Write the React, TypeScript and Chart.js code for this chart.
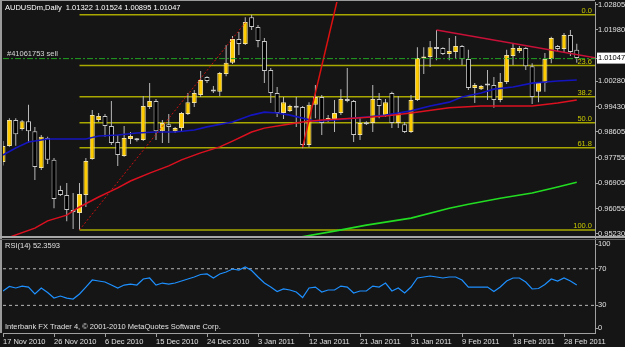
import React, { useEffect, useRef } from "react";
import { Chart, registerables } from "chart.js";

Chart.register(...registerables);

// ---------- data ----------
const symbolName = "AUDUSDm,Daily";
const tickBars = [0, 8, 16, 24, 32, 40, 48, 56, 64, 72, 80, 88];
const tickLabels = [
  "17 Nov 2010", "26 Nov 2010", "6 Dec 2010", "15 Dec 2010", "24 Dec 2010", "3 Jan 2011",
  "12 Jan 2011", "21 Jan 2011", "31 Jan 2011", "9 Feb 2011", "18 Feb 2011", "28 Feb 2011",
];

const opens = [
  0.9761, 0.9814, 0.9900, 0.9870, 0.9896, 0.9863, 0.9741, 0.9840, 0.9768, 0.9668,
  0.9652, 0.9602, 0.9592, 0.9652, 0.9771, 0.9900, 0.9913, 0.9880, 0.9827, 0.9781,
  0.9837, 0.9836, 0.9834, 0.9943, 0.9963, 0.9863, 0.9886, 0.9863, 0.9873, 0.9920,
  0.9956, 0.9983, 1.0042, 0.9996, 0.9993, 1.0052, 1.0089, 1.0168, 1.0151, 1.0240,
  1.0208, 1.0161, 1.0065, 0.9989, 0.9923, 0.9930, 0.9946, 0.9943, 0.9817, 0.9950,
  0.9976, 0.9900, 0.9903, 0.9923, 0.9969, 0.9963, 0.9850, 0.9890, 0.9890, 0.9969,
  0.9913, 0.9989, 0.9890, 0.9886, 0.9860, 0.9966, 1.0103, 1.0108, 1.0141, 1.0138,
  1.0118, 1.0125, 1.0145, 1.0102, 1.0006, 1.0002, 1.0016, 1.0016, 0.9966, 1.0026,
  1.0112, 1.0128, 1.0138, 1.0078, 0.9993, 1.0022, 1.0102, 1.0145, 1.0135, 1.0181,
  1.01322,
];
const highs = [
  0.9830, 0.9906, 0.9906, 0.9900, 0.9950, 0.9877, 0.9850, 0.9844, 0.9774, 0.9682,
  0.9691, 0.9658, 0.9691, 0.9774, 0.9933, 0.9923, 0.9920, 0.9963, 0.9850, 0.9880,
  0.9860, 0.9840, 0.9979, 1.0022, 0.9969, 0.9900, 0.9920, 0.9877, 0.9926, 0.9989,
  0.9999, 1.0062, 1.0045, 1.0012, 1.0059, 1.0148, 1.0178, 1.0191, 1.0240, 1.0248,
  1.0214, 1.0171, 1.0072, 1.0009, 0.9976, 0.9950, 0.9976, 0.9946, 0.9959, 1.0016,
  0.9983, 0.9916, 0.9966, 1.0002, 1.0072, 0.9966, 0.9910, 0.9896, 1.0016, 0.9989,
  0.9969, 0.9993, 0.9979, 0.9893, 0.9983, 1.0141, 1.0141, 1.0161, 1.0198, 1.0141,
  1.0171, 1.0178, 1.0148, 1.0132, 1.0022, 1.0016, 1.0065, 1.0042, 1.0055, 1.0132,
  1.0155, 1.0145, 1.0141, 1.0088, 1.0026, 1.0122, 1.0175, 1.0148, 1.0188, 1.0198,
  1.01524,
];
const lows = [
  0.9749, 0.9811, 0.9815, 0.9865, 0.9824, 0.9701, 0.9734, 0.9754, 0.9608, 0.9648,
  0.9565, 0.9539, 0.9536, 0.9612, 0.9768, 0.9893, 0.9844, 0.9817, 0.9748, 0.9778,
  0.9820, 0.9829, 0.9830, 0.9936, 0.9834, 0.9824, 0.9824, 0.9857, 0.9860, 0.9916,
  0.9943, 0.9976, 1.0022, 0.9989, 0.9979, 1.0045, 1.0085, 1.0115, 1.0148, 1.0198,
  1.0141, 1.0022, 0.9956, 0.9910, 0.9903, 0.9926, 0.9877, 0.9806, 0.9810, 0.9906,
  0.9850, 0.9893, 0.9860, 0.9916, 0.9959, 0.9827, 0.9834, 0.9883, 0.9860, 0.9906,
  0.9910, 0.9873, 0.9873, 0.9857, 0.9857, 0.9963, 1.0052, 1.0075, 1.0098, 1.0115,
  1.0098, 1.0102, 1.0082, 0.9999, 0.9956, 0.9999, 0.9966, 0.9940, 0.9959, 1.0019,
  1.0082, 1.0122, 1.0065, 0.9953, 0.9959, 0.9993, 1.0088, 1.0128, 1.0125, 1.0112,
  1.00895,
];
const closes = [
  0.9814, 0.9900, 0.9853, 0.9896, 0.9863, 0.9744, 0.9844, 0.9768, 0.9638, 0.9652,
  0.9602, 0.9595, 0.9655, 0.9764, 0.9916, 0.9913, 0.9880, 0.9824, 0.9784, 0.9840,
  0.9847, 0.9833, 0.9946, 0.9963, 0.9863, 0.9890, 0.9877, 0.9873, 0.9923, 0.9959,
  0.9989, 1.0032, 1.0029, 0.9994, 1.0055, 1.0089, 1.0168, 1.0151, 1.0224, 1.0208,
  1.0161, 1.0062, 0.9989, 0.9923, 0.9959, 0.9946, 0.9940, 0.9817, 0.9950, 0.9976,
  0.9890, 0.9906, 0.9923, 0.9969, 0.9963, 0.9850, 0.9890, 0.9886, 0.9969, 0.9946,
  0.9959, 0.9890, 0.9923, 0.9860, 0.9966, 1.0105, 1.0106, 1.0141, 1.0135, 1.0118,
  1.0128, 1.0145, 1.0102, 1.0006, 1.0016, 1.0012, 1.0014, 0.9966, 1.0026, 1.0115,
  1.0138, 1.0138, 1.0078, 0.9976, 1.0022, 1.0102, 1.0171, 1.0135, 1.0181, 1.0125,
  1.01047,
];

const rsiValues = [
  45.7, 50.6, 49.0, 51.1, 50.0, 42.4, 49.0, 44.0, 38.0, 40.2,
  38.0, 36.9, 42.4, 50.0, 57.7, 56.6, 55.5, 52.2, 49.0, 52.2,
  53.3, 52.2, 58.8, 59.9, 52.2, 54.4, 53.3, 54.4, 56.6, 58.8,
  61.0, 63.7, 64.3, 59.9, 64.3, 66.4, 69.7, 68.6, 71.9, 68.1,
  61.0, 54.4, 50.0, 45.1, 47.9, 46.8, 44.6, 38.6, 49.0, 50.0,
  44.6, 46.8, 46.8, 51.1, 50.0, 43.5, 45.7, 45.7, 51.1, 50.0,
  54.4, 45.7, 49.0, 43.5, 50.0, 59.9, 61.0, 62.1, 61.0, 59.9,
  61.0, 61.0, 57.7, 50.0, 50.0, 50.0, 50.0, 45.1, 50.0, 56.6,
  59.9, 59.9, 55.5, 47.9, 48.4, 52.8, 58.8, 56.6, 59.9, 56.6,
  52.36,
];

// moving averages read at sampled bars: [bar, price]
const maBlue = [
  [0, 0.9784], [2, 0.9807], [4, 0.9827], [7, 0.9837], [10, 0.9837], [13, 0.9837], [15, 0.9847],
  [18, 0.9850], [21, 0.9857], [24, 0.9860], [27, 0.9860], [30, 0.9867], [32, 0.9877], [36, 0.9893],
  [39, 0.9916], [41, 0.9926], [43, 0.9923], [45, 0.9916], [47, 0.9906], [49, 0.9896], [52, 0.9900],
  [55, 0.9906], [57, 0.9910], [60, 0.9916], [62, 0.9923], [64, 0.9930], [67, 0.9946], [70, 0.9959],
  [72, 0.9976], [75, 0.9989], [77, 1.0002], [80, 1.0009], [83, 1.0022], [87, 1.0029], [90, 1.0032],
];
const maRed = [
  [1, 0.9512], [5, 0.9542], [7, 0.9566], [10, 0.9585], [12, 0.9612], [15, 0.9645], [18, 0.9675],
  [20, 0.9698], [23, 0.9724], [26, 0.9748], [28, 0.9768], [31, 0.9791], [34, 0.9811], [36, 0.9830],
  [39, 0.9860], [41, 0.9873], [44, 0.9883], [47, 0.9893], [50, 0.9900], [55, 0.9906], [60, 0.9913],
  [64, 0.9923], [70, 0.9940], [75, 0.9946], [79, 0.9946], [83, 0.9946], [87, 0.9956], [90, 0.9966],
];
const maGreen = [
  [46, 0.9510], [52, 0.9532], [57, 0.9552], [64, 0.9575], [70, 0.9608], [73, 0.9621],
  [78, 0.9641], [83, 0.9658], [87, 0.9678], [90, 0.9694],
];

const fibLevels = [1.0248, 1.0080, 0.9977, 0.9891, 0.9808, 0.9536];
const fibNames = ["0.0", "23.6", "38.2", "50.0", "61.8", "100.0"];
const fibStartBar = 12;
const fibEndBar = 93;

const trendDashed = [[12, 0.9536], [38, 1.0222]];
const trendSteep = [[47, 0.9810], [53, 1.0347]];
const trendUpper = [[68, 1.0198], [93, 1.0105]];

const sellPrice = 1.0103;
const sellLabel = "#41061753 sell";

const priceTicks = [1.02805, 1.0198, 1.0028, 0.9943, 0.98605, 0.97755, 0.96905, 0.96055, 0.9523];
const currentPrice = 1.01047;

const rsiLevels = [70, 30];
const rsiTickPos = [97, 70, 30, 5.2];
const rsiTickLabels = ["100", "70", "30", "0"];
const rsiLabel = "RSI(14) 52.3593";
const copyright = "Interbank FX Trader 4, \u00a9 2001-2010 MetaQuotes Software Corp.";

// ---------- axis ranges ----------
const X_MIN = 0;
const X_MAX = 92.86;
const PRICE_MIN = 0.95126;
const PRICE_MAX = 1.02904;
const RSI_MIN = -0.2;
const RSI_MAX = 104.7;

const FONT = "'Liberation Sans', Arial, sans-serif";
const BG = "#151515";
const AXIS = "#a0a0a0";
const BULL = "#ffcc00";
const BEAR = "#000000";

export default function App() {
  const ref = useRef<HTMLCanvasElement>(null);

  useEffect(() => {
    document.body.style.margin = "0";
    document.body.style.background = BG;
    const last = closes.length - 1;
    const idx = opens.map((_, i) => i);

    const pts = (arr: number[][]) => arr.map(([x, y]) => ({ x, y }));
    const lineDs = (data: any[], color: string, width: number, order: number, dash: number[] = [], yAxisID = "y") => ({
      type: "line" as const,
      data,
      borderColor: color,
      borderWidth: width,
      borderDash: dash,
      pointRadius: 0,
      fill: false,
      tension: 0,
      xAxisID: "x",
      yAxisID,
      order,
    });

    const datasets: any[] = [];
    fibLevels.forEach((lv) => {
      datasets.push(lineDs([{ x: fibStartBar, y: lv }, { x: fibEndBar, y: lv }], "#a8a800", 1.5, 20));
    });
    datasets.push({
      type: "bar",
      data: idx.map((i) => ({ x: i, y: [lows[i], highs[i]] })),
      backgroundColor: "#b8b8b8",
      borderWidth: 0,
      barThickness: 1,
      grouped: false,
      inflateAmount: 0,
      xAxisID: "x",
      yAxisID: "y",
      order: 12,
    });
    datasets.push({
      type: "bar",
      data: idx.map((i) => ({ x: i, y: [opens[i], closes[i]] })),
      backgroundColor: idx.map((i) => (closes[i] >= opens[i] ? BULL : BEAR)),
      borderColor: idx.map((i) => (closes[i] >= opens[i] ? "#f0e0a0" : "#c8c8c8")),
      borderWidth: 1,
      borderSkipped: false,
      barThickness: 5,
      minBarLength: 2,
      grouped: false,
      inflateAmount: 0,
      xAxisID: "x",
      yAxisID: "y",
      order: 11,
    });
    datasets.push(lineDs(pts(maGreen), "#22dd22", 1.6, 5));
    datasets.push(lineDs(pts(maRed), "#dd1020", 1.5, 5));
    datasets.push(lineDs(pts(maBlue), "#1414c0", 1.6, 5));
    datasets.push(lineDs(pts(trendDashed), "#cc1010", 1, 4, [2, 2]));
    datasets.push(lineDs(pts(trendSteep), "#dd1010", 1.5, 4));
    datasets.push(lineDs(pts(trendUpper), "#c81038", 1.5, 4));
    datasets.push(lineDs([{ x: X_MIN, y: sellPrice }, { x: X_MAX, y: sellPrice }], "#22a022", 1, 3, [6, 2, 2, 2]));
    rsiLevels.forEach((lv) => {
      datasets.push(lineDs([{ x: X_MIN, y: lv }, { x: X_MAX, y: lv }], "#b8b8b8", 1, 6, [3, 3], "rsi"));
    });
    datasets.push(lineDs(idx.map((i) => ({ x: i, y: rsiValues[i] })), "#1e90ff", 1.2, 1, [], "rsi"));

    const tickFont = { family: FONT, size: 7.5 };

    const mt4Plugin = {
      id: "mt4",
      beforeDraw(chart: any) {
        const c = chart.ctx;
        c.save();
        c.fillStyle = BG;
        c.fillRect(0, 0, chart.width, chart.height);
        c.restore();
      },
      afterDraw(chart: any) {
        const c = chart.ctx;
        const xs = chart.scales.x;
        const ys = chart.scales.y;
        const rs = chart.scales.rsi;
        c.save();
        c.fillStyle = "#9a9a9a";
        c.fillRect(0, 0, 2, xs.top);
        c.fillRect(0, 0, xs.right, 1);
        c.fillStyle = "#a8a8a8";
        c.fillRect(0, ys.bottom - 1, chart.width, 2);
        c.fillStyle = "#5c5c5c";
        c.fillRect(0, ys.bottom + 2, chart.width, 1);

        c.font = `7.5px ${FONT}`;
        c.textBaseline = "middle";
        c.textAlign = "left";
        c.fillStyle = "#ffffff";
        c.fillText(
          `${symbolName}  ${opens[last].toFixed(5)} ${highs[last].toFixed(5)} ${lows[last].toFixed(5)} ${closes[last].toFixed(5)}`,
          5, 8
        );
        c.fillStyle = "#d8d8d8";
        c.fillText(sellLabel, 7, ys.getPixelForValue(sellPrice) - 4.5);
        c.fillStyle = "#e0e0e0";
        c.fillText(rsiLabel, 5, rs.top + 9);
        c.fillText(copyright, 5, rs.bottom - 6);

        c.textAlign = "right";
        c.textBaseline = "alphabetic";
        c.fillStyle = "#c8c800";
        fibLevels.forEach((lv, i) => {
          c.fillText(fibNames[i], xs.right - 3, ys.getPixelForValue(lv) - 2);
        });
        c.restore();
      },
    };

    const chart = new Chart(ref.current!, {
      type: "bar",
      data: { datasets },
      options: {
        responsive: false,
        animation: false,
        devicePixelRatio: 1,
        events: [],
        layout: { padding: { left: 3, top: 2, right: 0, bottom: 0 } },
        plugins: { legend: { display: false }, tooltip: { enabled: false } },
        scales: {
          x: {
            type: "linear",
            min: X_MIN,
            max: X_MAX,
            offset: false,
            afterBuildTicks: (s: any) => {
              s.ticks = tickBars.map((v) => ({ value: v }));
            },
            afterFit: (s: any) => {
              s.height = 14;
              s.paddingLeft = 0;
              s.paddingRight = 0;
            },
            ticks: {
              autoSkip: false,
              maxRotation: 0,
              minRotation: 0,
              align: "start",
              padding: 0,
              color: "#e0e0e0",
              font: tickFont,
              callback: (_v: any, i: number) => tickLabels[i],
            },
            grid: { offset: false, drawOnChartArea: false, tickLength: 4, color: AXIS },
            border: { color: AXIS },
          },
          y: {
            type: "linear",
            position: "right",
            stack: "panes",
            stackWeight: 235,
            weight: 0,
            min: PRICE_MIN,
            max: PRICE_MAX,
            afterBuildTicks: (s: any) => {
              s.ticks = [...priceTicks, currentPrice].map((v) => ({ value: v }));
            },
            afterFit: (s: any) => {
              s.width = 30;
              s.paddingTop = 0;
              s.paddingBottom = 0;
            },
            ticks: {
              autoSkip: false,
              padding: 0,
              font: tickFont,
              color: (ctx: any) => (ctx.tick && ctx.tick.value === currentPrice ? "#000000" : "#e0e0e0"),
              showLabelBackdrop: (ctx: any) => !!(ctx.tick && ctx.tick.value === currentPrice),
              backdropColor: "#ffffff",
              backdropPadding: { top: 1, bottom: 1, left: 1, right: 3 },
              callback: (v: any) => Number(v).toFixed(5),
            },
            grid: { drawOnChartArea: false, tickLength: 3, color: AXIS },
            border: { color: AXIS },
          },
          rsi: {
            type: "linear",
            position: "right",
            stack: "panes",
            stackWeight: 96,
            weight: 1,
            min: RSI_MIN,
            max: RSI_MAX,
            afterBuildTicks: (s: any) => {
              s.ticks = rsiTickPos.map((v) => ({ value: v }));
            },
            afterFit: (s: any) => {
              s.width = 30;
              s.paddingTop = 0;
              s.paddingBottom = 0;
            },
            ticks: {
              autoSkip: false,
              padding: 0,
              font: tickFont,
              color: "#e0e0e0",
              callback: (_v: any, i: number) => rsiTickLabels[i],
            },
            grid: { drawOnChartArea: false, tickLength: 3, color: AXIS },
            border: { color: AXIS },
          },
        },
      } as any,
      plugins: [mt4Plugin],
    });
    return () => chart.destroy();
  }, []);

  return <canvas ref={ref} width={625} height={347} style={{ display: "block", width: 625, height: 347 }} />;
}
